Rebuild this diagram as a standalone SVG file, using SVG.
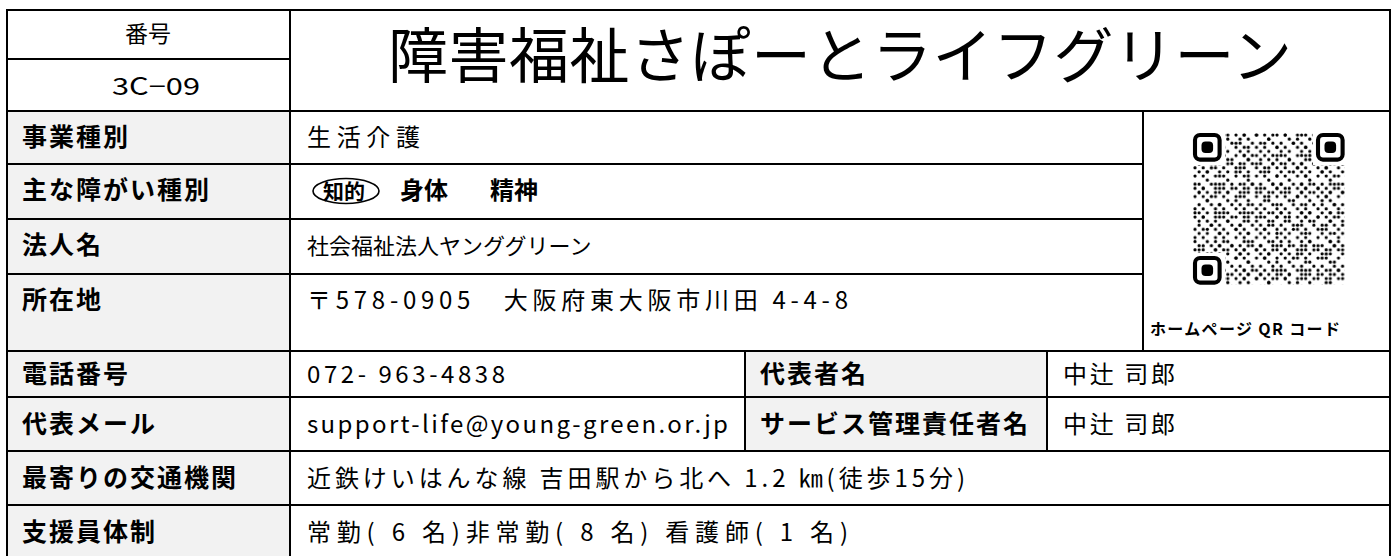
<svg xmlns="http://www.w3.org/2000/svg" width="1397" height="556" viewBox="0 0 1397 556">
<style>
  text { font-family: "Noto Sans CJK JP", "Noto Sans", sans-serif; fill: #000; }
  .lbl { font-size: 25px; font-weight: bold; letter-spacing: 2px; }
  .val { font-size: 24px; }
  .hdr { font-size: 23px; text-anchor: middle; }
  .ttl { font-size: 60px; }
  .cell { fill: #fff; }
  .lcell { fill: #f2f2f2; }
  .ln { stroke: #000; stroke-width: 2; fill: none; }
</style>
<defs>
  <pattern id="qa" x="1193" y="133" width="20.5" height="20.5" patternUnits="userSpaceOnUse">
    <circle cx="2" cy="2" r="1.6"/><circle cx="10.2" cy="2" r="1.6"/><circle cx="14.3" cy="6.1" r="1.6"/>
    <circle cx="6.1" cy="10.2" r="1.6"/><circle cx="18.4" cy="10.2" r="1.6"/><circle cx="2" cy="14.3" r="1.6"/>
    <circle cx="10.2" cy="14.3" r="1.6"/><circle cx="14.3" cy="18.4" r="1.6"/><circle cx="6.1" cy="18.4" r="1.6"/>
  </pattern>
  <pattern id="qb" x="1193" y="133" width="28.7" height="28.7" patternUnits="userSpaceOnUse">
    <circle cx="6.1" cy="2" r="1.6"/><circle cx="18.4" cy="6.1" r="1.6"/><circle cx="22.5" cy="2" r="1.6"/>
    <circle cx="2" cy="22.5" r="1.6"/><circle cx="26.6" cy="14.3" r="1.6"/><circle cx="10.2" cy="26.6" r="1.6"/>
    <circle cx="22.5" cy="22.5" r="1.6"/><circle cx="14.3" cy="10.2" r="1.6"/><circle cx="26.6" cy="26.6" r="1.6"/>
  </pattern>
</defs>
<rect x="0" y="0" width="1397" height="556" fill="#fff"/>

<g id="header">
  <rect class="cell" x="7" y="10" width="283" height="49"/>
  <text class="hdr" x="148" y="42">番号</text>
  <text class="hdr" x="156" y="95" textLength="88" lengthAdjust="spacingAndGlyphs" style="font-size:24px">3C−09</text>
  <text class="ttl" x="388" y="78" textLength="904" lengthAdjust="spacing">障害福祉さぽーとライフグリーン</text>
</g>

<g id="labels">
  <rect class="lcell" x="7" y="111" width="283" height="240"/>
  <rect class="lcell" x="7" y="351" width="283" height="210"/>
  <rect class="lcell" x="745" y="351" width="302" height="100"/>
  <text class="lbl" x="22" y="146">事業種別</text>
  <text class="lbl" x="22" y="199">主な障がい種別</text>
  <text class="lbl" x="22" y="254">法人名</text>
  <text class="lbl" x="22" y="309">所在地</text>
  <text class="lbl" x="22" y="383">電話番号</text>
  <text class="lbl" x="22" y="433">代表メール</text>
  <text class="lbl" x="22" y="487">最寄りの交通機関</text>
  <text class="lbl" x="22" y="541">支援員体制</text>
  <text class="lbl" x="760" y="383">代表者名</text>
  <text class="lbl" x="760" y="433">サービス管理責任者名</text>
</g>

<g id="values">
  <text class="val" x="307" y="146" textLength="113" lengthAdjust="spacing">生活介護</text>
  <ellipse cx="346" cy="191" rx="33" ry="12.5" fill="none" stroke="#000" stroke-width="1.6"/>
  <text class="val" x="323" y="199" style="font-weight:bold;font-size:21px">知的</text>
  <text class="val" x="400" y="199" style="font-weight:bold;font-size:24px">身体</text>
  <text class="val" x="490" y="199" style="font-weight:bold;font-size:24px">精神</text>
  <text class="val" x="307" y="254" style="font-size:22px">社会福祉法人ヤンググリーン</text>
  <text class="val" x="307" y="309" textLength="541" lengthAdjust="spacing">〒578-0905　大阪府東大阪市川田 4-4-8</text>
  <text class="val" x="307" y="383" textLength="198" lengthAdjust="spacing">072- 963-4838</text>
  <text class="val" x="307" y="433" textLength="421" lengthAdjust="spacing">support-life@young-green.or.jp</text>
  <text class="val" x="1063" y="383" textLength="112" lengthAdjust="spacing">中辻 司郎</text>
  <text class="val" x="1063" y="433" textLength="112" lengthAdjust="spacing">中辻 司郎</text>
  <text class="val" x="307" y="487" textLength="658" lengthAdjust="spacing">近鉄けいはんな線 吉田駅から北へ 1.2 ㎞(徒歩15分)</text>
  <text class="val" x="307" y="541" textLength="541" lengthAdjust="spacing">常勤( 6 名)非常勤( 8 名) 看護師( 1 名)</text>
</g>

<g id="qr">
  <rect x="1193" y="133" width="152" height="152" fill="url(#qa)"/>
  <rect x="1193" y="133" width="152" height="152" fill="url(#qb)"/>
  <rect x="1191" y="131" width="34" height="34" fill="#fff"/>
  <rect x="1313" y="131" width="34" height="34" fill="#fff"/>
  <rect x="1191" y="253" width="34" height="34" fill="#fff"/>
  <g fill="none" stroke="#000" stroke-width="4.1">
    <rect x="1195" y="135" width="24.6" height="24.6" rx="5"/>
    <rect x="1318" y="135" width="24.6" height="24.6" rx="5"/>
    <rect x="1195" y="258" width="24.6" height="24.6" rx="5"/>
  </g>
  <rect x="1201.5" y="141.5" width="11.6" height="11.6" rx="4"/>
  <rect x="1324.5" y="141.5" width="11.6" height="11.6" rx="4"/>
  <rect x="1201.5" y="264.5" width="11.6" height="11.6" rx="4"/>
  <text x="1150" y="335" textLength="190" lengthAdjust="spacing" style="font-size:16px;font-weight:bold">ホームページ QR コード</text>
</g>

<g id="connectors">
  <rect class="ln" x="7" y="10" width="1383" height="560"/>
  <path class="ln" d="M7 59H290M290 10V556M7 111H1390M7 164H1143M7 219H1143M7 274H1143M1143 111V351M7 351H1390M7 397H1390M745 351V451M1047 351V451M7 451H1390M7 505H1390"/>
</g>
</svg>
